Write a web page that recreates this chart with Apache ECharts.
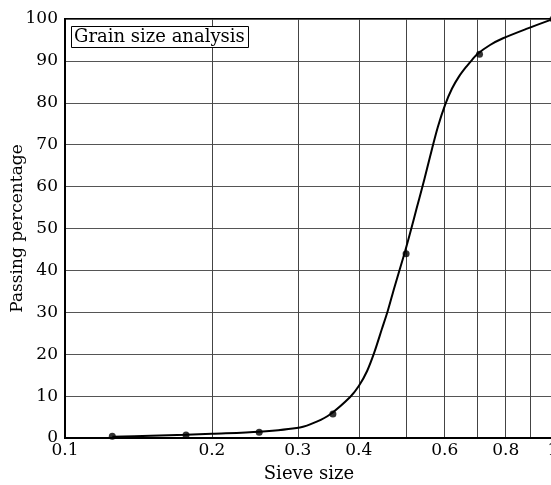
<!DOCTYPE html>
<html><head><meta charset="utf-8">
<script src="https://cdn.jsdelivr.net/npm/echarts@6/dist/echarts.min.js"></script>
<style>html,body{margin:0;padding:0;background:#fff}#c{width:551px;height:485px}</style>
</head><body><div id="c"></div>
<script>
// Measured sieve data
var sieveSizes = [0.125, 0.177, 0.25, 0.354, 0.5, 0.707, 1.0];
var passing = [0.4, 0.7, 1.4, 5.7, 44, 91.6, 100];
// Fitted curve
var curveX = [0.125, 0.15, 0.177, 0.2, 0.25, 0.303, 0.328, 0.349, 0.384, 0.400, 0.416, 0.430, 0.446, 0.459, 0.472, 0.486, 0.498, 0.512, 0.526, 0.539, 0.552, 0.565, 0.581, 0.601, 0.621, 0.642, 0.663, 0.682, 0.699, 0.743, 0.790, 0.885, 1.0];
var curveY = [0.3, 0.55, 0.75, 1.0, 1.5, 2.5, 3.9, 5.6, 9.8, 12.4, 16, 20.3, 26, 30.5, 35.5, 40.5, 44.7, 49.8, 55, 59.6, 64.3, 69, 74.3, 79.5, 83.4, 86.3, 88.5, 90.2, 91.6, 93.8, 95.4, 97.7, 100];
var xGridValues = [0.1, 0.2, 0.3, 0.4, 0.5, 0.6, 0.7, 0.8, 0.9, 1];
var xLabelValues = [0.1, 0.2, 0.3, 0.4, 0.6, 0.8, 1];

var FONT = 'DejaVu Serif';
var chart = echarts.init(document.getElementById('c'));
chart.setOption({
  animation: false,
  title: {
    text: 'Grain size analysis', left: 71, top: 26,
    borderColor: '#000', borderWidth: 1, padding: [2, 4, 2, 3],
    backgroundColor: '#fff',
    textStyle: {fontFamily: FONT, fontSize: 18, fontWeight: 'normal', color: '#000'}
  },
  grid: {left: 65, right: -2, top: 19, bottom: 47, show: true, borderColor: '#000', borderWidth: 2,
         outerBoundsMode: 'none', containLabel: false},
  xAxis: {
    type: 'log', logBase: 10, min: 0.1, max: 1,
    name: 'Sieve size', nameLocation: 'middle', nameGap: 27, nameMoveOverlap: false,
    nameTextStyle: {fontFamily: FONT, fontSize: 18, color: '#000'},
    axisLine: {lineStyle: {color: '#000', width: 2}},
    axisTick: {show: false, customValues: xGridValues},
    axisLabel: {customValues: xLabelValues, fontFamily: FONT, fontSize: 17, color: '#000', margin: 4,
      hideOverlap: false,
      formatter: function (v) { return String(Math.round(v * 10) / 10); }},
    splitLine: {show: true, lineStyle: {color: '#444', width: 1}}
  },
  yAxis: {
    type: 'value', min: 0, max: 100, interval: 10,
    name: 'Passing percentage', nameLocation: 'middle', nameGap: 39, nameRotate: 90, nameMoveOverlap: false,
    nameTextStyle: {fontFamily: FONT, fontSize: 17, color: '#000'},
    axisLine: {show: true, lineStyle: {color: '#000', width: 2}},
    axisTick: {show: false},
    axisLabel: {fontFamily: FONT, fontSize: 17, color: '#000', margin: 7},
    splitLine: {show: true, lineStyle: {color: '#555', width: 1}}
  },
  series: [
    {type: 'line', data: curveX.map(function (x, i) { return [x, curveY[i]]; }),
     smooth: 0.3, showSymbol: false, symbol: 'none',
     lineStyle: {color: '#000', width: 2}, z: 3},
    {type: 'scatter', data: sieveSizes.map(function (x, i) { return [x, passing[i]]; }),
     symbol: 'circle', symbolSize: 7, itemStyle: {color: '#000'}, z: 4}
  ]
});
</script></body></html>
